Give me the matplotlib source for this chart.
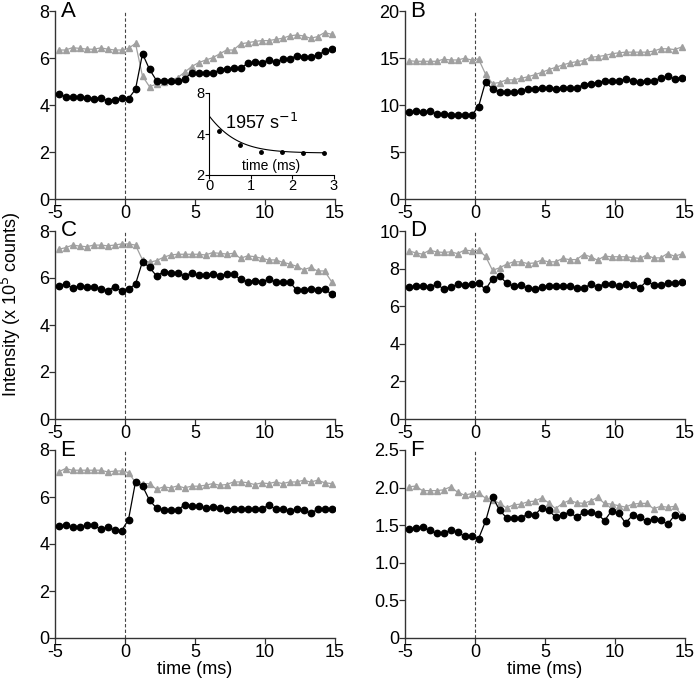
import numpy as np
import matplotlib
matplotlib.use("Agg")
import matplotlib.pyplot as plt

plt.rcParams['font.family'] = ['Liberation Sans', 'DejaVu Sans']
plt.rcParams['axes.unicode_minus'] = False

# sampling times (ms), 0.5 ms bins
t = np.arange(-4.75, 15.0, 0.5)

# panel data (x 10^5 counts): black circles and gray triangles
a_black = [4.47, 4.35, 4.35, 4.34, 4.30, 4.27, 4.31, 4.18, 4.23, 4.30,
           4.27, 4.67, 6.18, 5.52, 5.04, 5.04, 5.04, 5.02, 5.09, 5.38,
           5.35, 5.35, 5.35, 5.49, 5.55, 5.56, 5.56, 5.77, 5.82, 5.80,
           5.91, 5.83, 5.94, 5.97, 6.09, 6.04, 6.04, 6.13, 6.28, 6.37]
a_gray = [6.34, 6.34, 6.44, 6.41, 6.38, 6.37, 6.43, 6.38, 6.34, 6.34,
          6.41, 6.62, 5.23, 4.78, 4.89, 4.99, 5.06, 5.16, 5.39, 5.63,
          5.80, 5.91, 6.01, 6.17, 6.34, 6.34, 6.60, 6.65, 6.70, 6.74,
          6.74, 6.79, 6.84, 6.94, 6.98, 6.94, 6.84, 6.91, 7.08, 7.01]

b_black = [9.23, 9.34, 9.23, 9.34, 9.05, 9.05, 8.98, 8.98, 8.90, 8.90,
           9.80, 12.46, 11.70, 11.42, 11.35, 11.42, 11.45, 11.67, 11.74, 11.78,
           11.78, 11.74, 11.78, 11.85, 11.85, 12.14, 12.28, 12.39, 12.57, 12.57,
           12.57, 12.75, 12.57, 12.42, 12.57, 12.57, 12.82, 13.07, 12.78, 12.90]
b_gray = [14.72, 14.65, 14.65, 14.65, 14.65, 14.87, 14.79, 14.79, 14.97, 14.79,
          14.90, 13.30, 12.28, 12.39, 12.68, 12.68, 12.82, 13.00, 13.21, 13.46,
          13.75, 14.00, 14.25, 14.47, 14.61, 14.72, 15.08, 15.15, 15.26, 15.44,
          15.55, 15.62, 15.62, 15.62, 15.62, 15.73, 15.98, 15.98, 15.90, 16.16]

c_black = [5.67, 5.74, 5.57, 5.67, 5.60, 5.63, 5.53, 5.46, 5.63, 5.45,
           5.53, 5.74, 6.70, 6.45, 6.09, 6.26, 6.23, 6.20, 6.09, 6.20,
           6.11, 6.13, 6.16, 6.10, 6.16, 6.16, 5.94, 5.84, 5.89, 5.84,
           5.94, 5.84, 5.84, 5.84, 5.49, 5.49, 5.52, 5.49, 5.52, 5.32]
c_gray = [7.22, 7.29, 7.40, 7.36, 7.33, 7.40, 7.40, 7.37, 7.40, 7.45,
          7.45, 7.40, 6.77, 6.67, 6.74, 6.88, 6.98, 7.01, 7.01, 7.01,
          7.01, 6.98, 7.08, 7.05, 7.02, 7.05, 6.84, 6.94, 6.91, 6.84,
          6.77, 6.77, 6.67, 6.60, 6.50, 6.35, 6.45, 6.30, 6.30, 5.85]

d_black = [7.02, 7.05, 7.05, 7.02, 7.16, 6.93, 7.02, 7.16, 7.14, 7.16,
           7.23, 6.89, 7.46, 7.61, 7.23, 7.07, 7.11, 6.96, 6.89, 7.02,
           7.09, 7.07, 7.07, 7.07, 6.98, 6.96, 7.16, 7.02, 7.20, 7.16,
           7.05, 7.16, 7.14, 6.96, 7.32, 7.14, 7.11, 7.23, 7.23, 7.29]
d_gray = [8.95, 8.84, 8.77, 8.98, 8.89, 8.86, 8.89, 8.80, 8.98, 8.95,
          8.98, 8.66, 7.91, 8.04, 8.23, 8.36, 8.36, 8.27, 8.30, 8.45,
          8.36, 8.36, 8.54, 8.48, 8.48, 8.75, 8.63, 8.45, 8.66, 8.63,
          8.63, 8.63, 8.59, 8.54, 8.71, 8.57, 8.57, 8.80, 8.66, 8.77]

e_black = [4.76, 4.81, 4.71, 4.71, 4.79, 4.79, 4.64, 4.71, 4.60, 4.56,
           5.04, 6.64, 6.47, 5.86, 5.53, 5.46, 5.43, 5.43, 5.67, 5.61,
           5.60, 5.53, 5.57, 5.54, 5.43, 5.50, 5.50, 5.50, 5.47, 5.50,
           5.64, 5.50, 5.50, 5.40, 5.47, 5.43, 5.31, 5.47, 5.50, 5.47]
e_gray = [7.07, 7.21, 7.14, 7.14, 7.14, 7.14, 7.14, 7.07, 7.10, 7.11,
          7.04, 6.62, 6.57, 6.57, 6.33, 6.43, 6.39, 6.47, 6.39, 6.46,
          6.46, 6.50, 6.57, 6.50, 6.53, 6.64, 6.64, 6.61, 6.53, 6.60,
          6.57, 6.64, 6.57, 6.64, 6.64, 6.71, 6.64, 6.71, 6.61, 6.57]

f_black = [1.45, 1.46, 1.47, 1.43, 1.39, 1.40, 1.43, 1.41, 1.35, 1.35,
           1.32, 1.55, 1.88, 1.70, 1.60, 1.59, 1.59, 1.65, 1.63, 1.73,
           1.70, 1.61, 1.64, 1.67, 1.61, 1.67, 1.67, 1.65, 1.56, 1.69,
           1.66, 1.53, 1.63, 1.61, 1.55, 1.58, 1.57, 1.51, 1.63, 1.61]
f_gray = [2.01, 2.02, 1.96, 1.96, 1.96, 1.97, 2.01, 1.94, 1.90, 1.92,
          1.93, 1.86, 1.84, 1.79, 1.73, 1.77, 1.78, 1.81, 1.82, 1.86,
          1.80, 1.72, 1.79, 1.83, 1.80, 1.79, 1.82, 1.87, 1.79, 1.78,
          1.76, 1.74, 1.78, 1.79, 1.79, 1.72, 1.75, 1.74, 1.75, 1.64]

# inset of panel A (decay after the peak)
inset_t = [0.25, 0.75, 1.25, 1.75, 2.25, 2.75]
inset_y = [4.18, 3.34, 2.95, 2.95, 2.92, 2.92]
rate = 1.957       # ms^-1 (1957 s^-1)
fit_amp = 2.55
fit_base = 2.9

panels = [
    ('A', a_black, a_gray, 8, [0, 2, 4, 6, 8], ['0', '2', '4', '6', '8']),
    ('B', b_black, b_gray, 20, [0, 5, 10, 15, 20], ['0', '5', '10', '15', '20']),
    ('C', c_black, c_gray, 8, [0, 2, 4, 6, 8], ['0', '2', '4', '6', '8']),
    ('D', d_black, d_gray, 10, [0, 2, 4, 6, 8, 10], ['0', '2', '4', '6', '8', '10']),
    ('E', e_black, e_gray, 8, [0, 2, 4, 6, 8], ['0', '2', '4', '6', '8']),
    ('F', f_black, f_gray, 2.5, [0, 0.5, 1.0, 1.5, 2.0, 2.5],
     ['0', '0.5', '1.0', '1.5', '2.0', '2.5']),
]

W, H = 697, 681
fig = plt.figure(figsize=(W / 100, H / 100), dpi=100)

lefts = [55, 405]
tops = [11, 231, 450]
ax_w, ax_h = 280, 188

gray = '#a0a0a0'
fs = 13
axes = []
for k, (lab, yb, yg, ymax, yt, ytl) in enumerate(panels):
    col, row = k % 2, k // 2
    x0 = lefts[col] / W
    y0 = 1 - (tops[row] + ax_h) / H
    ax = fig.add_axes([x0, y0, ax_w / W, ax_h / H])
    axes.append(ax)
    ax.plot(t, yg, color=gray, lw=0.9, marker='^', ms=4.2, mec=gray, mfc=gray, zorder=3)
    ax.plot(t, yb, color='black', lw=0.9, marker='o', ms=4.6, mec='black', mfc='black', zorder=4)
    ax.axvline(0, color='#444444', lw=0.8, ls=(0, (3, 2)), zorder=2)
    ax.set_xlim(-5, 15)
    ax.set_ylim(0, ymax)
    ax.set_xticks([-5, 0, 5, 10, 15])
    ax.set_yticks(yt)
    ax.set_yticklabels(ytl)
    for s in ['top', 'right']:
        ax.spines[s].set_visible(False)
    for s in ['left', 'bottom']:
        ax.spines[s].set_color('#333333')
        ax.spines[s].set_linewidth(1.0)
    ax.tick_params(labelsize=fs, length=4, width=0.9, pad=0, color='#333333')
    ax.text(0.02, 1.0, lab, transform=ax.transAxes, fontsize=16, va='center', ha='left')

axes[4].set_xlabel('time (ms)', fontsize=fs, labelpad=0)
axes[5].set_xlabel('time (ms)', fontsize=fs, labelpad=0)

fig.text(0.016, 0.554, 'Intensity (x 10$^5$ counts)', rotation=90, va='center', ha='center',
         fontsize=13)

# inset
ins = fig.add_axes([209 / W, 1 - 175 / H, 125 / W, 82 / H])
tt = np.linspace(0, 2.75, 100)
ins.plot(tt, fit_base + fit_amp * np.exp(-rate * tt), color='black', lw=0.8)
ins.plot(inset_t, inset_y, 'o', color='black', ms=2.5)
ins.set_yscale('log', base=2)
ins.set_xlim(0, 3)
ins.set_ylim(2, 8)
ins.set_xticks([0, 1, 2, 3])
ins.set_yticks([2, 4, 8])
ins.set_yticklabels(['2', '4', '8'])
ins.yaxis.set_minor_locator(matplotlib.ticker.NullLocator())
ins.patch.set_alpha(0)
for s in ['top', 'right']:
    ins.spines[s].set_visible(False)
for s in ['left', 'bottom']:
    ins.spines[s].set_linewidth(0.8)
ins.tick_params(labelsize=10.5, length=3, width=0.8, pad=0)
ins.text(0.5, 0.03, 'time (ms)', transform=ins.transAxes, ha='center', va='bottom', fontsize=10)
ins.text(0.42, 0.63, '1957 s$^{-1}$', transform=ins.transAxes, ha='center', va='center',
         fontsize=13)

fig.savefig('out.png', dpi=100)
